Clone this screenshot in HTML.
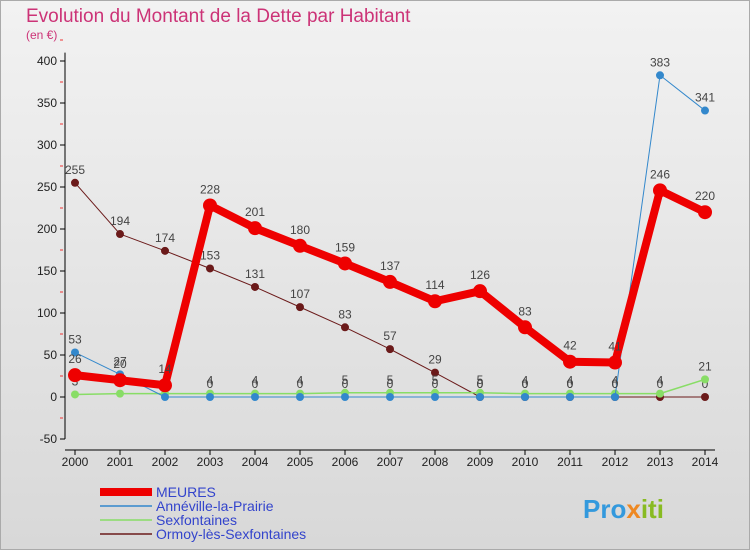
<!DOCTYPE html>
<html><head><meta charset="utf-8"><style>
body{margin:0;background:#fff;font-family:"Liberation Sans",sans-serif}
svg text{font-family:"Liberation Sans",sans-serif}
</style></head><body>
<svg id="c" width="750" height="550">
<defs><linearGradient id="bg" x1="0" y1="0" x2="0" y2="1"><stop offset="0" stop-color="#f2f2f2"/><stop offset="1" stop-color="#d8d8d8"/></linearGradient></defs>
<rect x="0.5" y="0.5" width="749" height="549" fill="url(#bg)" stroke="#aaa"/>
<text x="26" y="22" font-size="19" fill="#cc3377">Evolution du Montant de la Dette par Habitant</text>
<text x="26" y="39" font-size="12" fill="#cc3377">(en €)</text>
<g id="axes"></g><g id="series"></g><g id="legend"></g>
<text x="583" y="518" font-size="26" font-weight="bold" fill="#3399dd">Pro<tspan fill="#ee8822">x</tspan><tspan fill="#88bb22">iti</tspan></text>
</svg>
<script>
const years=[2000,2001,2002,2003,2004,2005,2006,2007,2008,2009,2010,2011,2012,2013,2014];
const yTicks=[-50,0,50,100,150,200,250,300,350,400];
const meures=[26,20,14,228,201,180,159,137,114,126,83,42,41,246,220];
const anneville=[53,27,0,0,0,0,0,0,0,0,0,0,0,383,341];
const sexfontaines=[3,4,4,4,4,4,5,5,5,5,4,4,4,4,21];
const ormoy=[255,194,174,153,131,107,83,57,29,0,0,0,0,0,0];
const names=["MEURES","Annéville-la-Prairie","Sexfontaines","Ormoy-lès-Sexfontaines"];
const NS="http://www.w3.org/2000/svg";
const X=i=>75+i*45, Y=v=>397-v*0.84;
function mk(tag,at,par){const e=document.createElementNS(NS,tag);for(const k in at)e.setAttribute(k,at[k]);par.appendChild(e);return e;}
const ax=document.getElementById('axes'),sg=document.getElementById('series'),lg=document.getElementById('legend');
let a=mk('line',{x1:65,y1:Y(410),x2:65,y2:Y(-50),stroke:'#000'},ax);

a=mk('line',{x1:65,y1:450,x2:715,y2:450,stroke:'#000'},ax);

yTicks.forEach(v=>{mk('line',{x1:60,y1:Y(v),x2:65,y2:Y(v),stroke:'#000'},ax);
 mk('line',{x1:60,y1:Y(v+25),x2:63,y2:Y(v+25),stroke:'#e33'},ax);
 const t=mk('text',{x:57,y:Y(v)+4,'font-size':12,fill:'#222','text-anchor':'end'},ax);t.textContent=v;
 });
years.forEach((y,i)=>{mk('line',{x1:X(i),y1:450,x2:X(i),y2:455,stroke:'#000'},ax);
 const t=mk('text',{x:X(i),y:466,'font-size':12,fill:'#222','text-anchor':'middle'},ax);t.textContent=y;
 });
function series(data,color,w,r,name,labelDy){
 const g=mk('g',{},sg);
 mk('polyline',{points:data.map((v,i)=>X(i)+','+Y(v)).join(' '),fill:'none',stroke:color,'stroke-width':w,'stroke-linejoin':'round'},g);
 data.forEach((v,i)=>{const c=mk('circle',{cx:X(i),cy:Y(v),r:r,fill:color},g);
  
  const t=mk('text',{x:X(i),y:Y(v)-labelDy,'font-size':12,fill:'#444','text-anchor':'middle'},g);t.textContent=v;});
}
series(ormoy,'#6b1a1a',1,4,'series-ormoy',9);
series(sexfontaines,'#88dd66',1.5,4,'series-sexfontaines',9);
series(anneville,'#3388cc',1,4,'series-anneville',9);
series(meures,'#ee0000',8,7,'series-meures',12);
const cols=['#ee0000','#3388cc','#88dd66','#6b1a1a'],ws=[8,1.5,1.5,1.5];
names.forEach((n,i)=>{const g=mk('g',{},lg);
 mk('line',{x1:100,y1:492+i*14,x2:152,y2:492+i*14,stroke:cols[i],'stroke-width':ws[i]},g);
 const t=mk('text',{x:156,y:497+i*14,'font-size':14,fill:'#3344cc'},g);t.textContent=n;});
</script>
</body></html>
